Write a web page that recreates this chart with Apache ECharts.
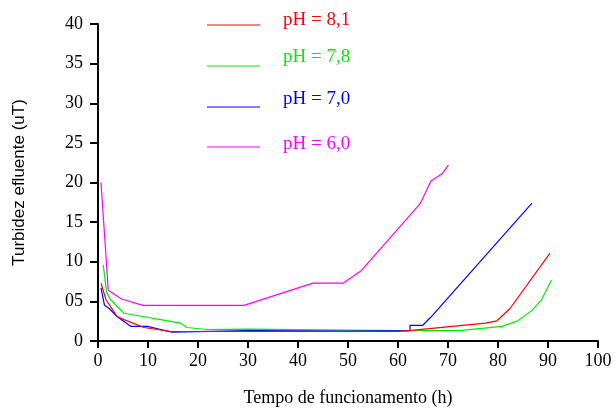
<!DOCTYPE html>
<html>
<head>
<meta charset="utf-8">
<script src="https://cdn.jsdelivr.net/npm/echarts@6/dist/echarts.min.js"></script>
<style>html,body{margin:0;padding:0;background:#fff}#c{width:616px;height:412px}</style>
</head>
<body>
<div id="c"></div>
<script>
const seriesNames = ['pH = 8,1', 'pH = 7,8', 'pH = 7,0', 'pH = 6,0'];
const seriesColors = ['#ff0000', '#00ee00', '#0000ff', '#ff00ff'];

const redX = [0.6, 1.6, 3.8, 5.2, 9.2, 14.5, 30, 50, 60, 62.2, 77.5, 79.8, 82.4, 90.4];
const redY = [7.3, 5.2, 3.1, 2.7, 1.7, 1.2, 1.2, 1.2, 1.2, 1.3, 2.26, 2.55, 4.1, 11.1];

const greenX = [1.05, 1.7, 2.4, 5.2, 16.5, 17.8, 21.8, 30, 45, 60, 72.2, 80.8, 83.8, 86.7, 88.7, 90.7];
const greenY = [9.6, 6.2, 5.3, 3.5, 2.26, 1.7, 1.45, 1.5, 1.4, 1.3, 1.3, 1.84, 2.5, 3.8, 5.2, 7.7];

const blueX = [0.6, 1.3, 2.25, 3.6, 6.6, 9.9, 11.9, 14.8, 30, 50, 62.4, 62.4, 64.9, 66.5, 86.8];
const blueY = [6.7, 4.5, 4.1, 3.2, 1.84, 1.84, 1.55, 1.13, 1.3, 1.25, 1.3, 1.96, 1.96, 2.96, 17.4];

const magentaX = [0.6, 2.05, 4.7, 9.0, 29.2, 43, 49, 52.7, 64.4, 66.6, 68.8, 70.1];
const magentaY = [20, 6.4, 5.3, 4.5, 4.5, 7.3, 7.3, 8.9, 17.3, 20.2, 21.1, 22.2];

const yTickLabels = {0: '0', 5: '05'};
const xAxisTitle = 'Tempo de funcionamento (h)';
const yAxisTitle = 'Turbidez efluente (uT)';

const allX = [redX, greenX, blueX, magentaX];
const allY = [redY, greenY, blueY, magentaY];
const zip = (xs, ys) => xs.map((x, i) => [x, ys[i]]);

const drawOrder = [3, 1, 2, 0];
const series = drawOrder.map(i => ({
  name: seriesNames[i],
  type: 'line',
  data: zip(allX[i], allY[i]),
  showSymbol: false,
  symbol: 'none',
  lineStyle: {color: seriesColors[i], width: 1.2},
  itemStyle: {color: seriesColors[i]},
  animation: false
}));

const legendLineY = [25, 66, 107, 147];
const legendTextY = [20, 57, 99, 144];
const graphic = [];
seriesNames.forEach((n, i) => {
  graphic.push({type: 'line', shape: {x1: 207, y1: legendLineY[i], x2: 260, y2: legendLineY[i]},
    style: {stroke: seriesColors[i], lineWidth: 1.2}});
  graphic.push({type: 'text', x: 283, y: legendTextY[i],
    style: {text: n, fill: seriesColors[i], font: '19px "Liberation Serif"', textVerticalAlign: 'middle'}});
});

const chart = echarts.init(document.getElementById('c'), null, {renderer: 'canvas'});
chart.setOption({
  animation: false,
  backgroundColor: '#fff',
  grid: {left: 98, right: 18, top: 24, bottom: 69, containLabel: false},
  xAxis: {
    type: 'value', min: 0, max: 100, interval: 10,
    name: xAxisTitle, nameLocation: 'middle', nameGap: 48,
    nameTextStyle: {fontFamily: 'Liberation Serif', fontSize: 18, color: '#000'},
    axisLine: {show: true, onZero: false, lineStyle: {color: '#000', width: 2}},
    axisTick: {show: true, length: 7, lineStyle: {color: '#000', width: 2}},
    axisLabel: {fontFamily: 'Liberation Serif', fontSize: 18, color: '#000', margin: 11},
    splitLine: {show: false}
  },
  yAxis: {
    type: 'value', min: 0, max: 40, interval: 5,
    name: yAxisTitle, nameLocation: 'middle', nameGap: 70, nameRotate: 90,
    nameTextStyle: {fontFamily: 'Liberation Sans', fontSize: 17, color: '#000'},
    axisLine: {show: true, lineStyle: {color: '#000', width: 2}},
    axisTick: {show: true, length: 8, lineStyle: {color: '#000', width: 2}},
    axisLabel: {fontFamily: 'Liberation Serif', fontSize: 18, color: '#000', margin: 15,
      formatter: v => (yTickLabels[v] !== undefined ? yTickLabels[v] : String(v))},
    splitLine: {show: false}
  },
  graphic: graphic,
  series: series
});
</script>
</body>
</html>
